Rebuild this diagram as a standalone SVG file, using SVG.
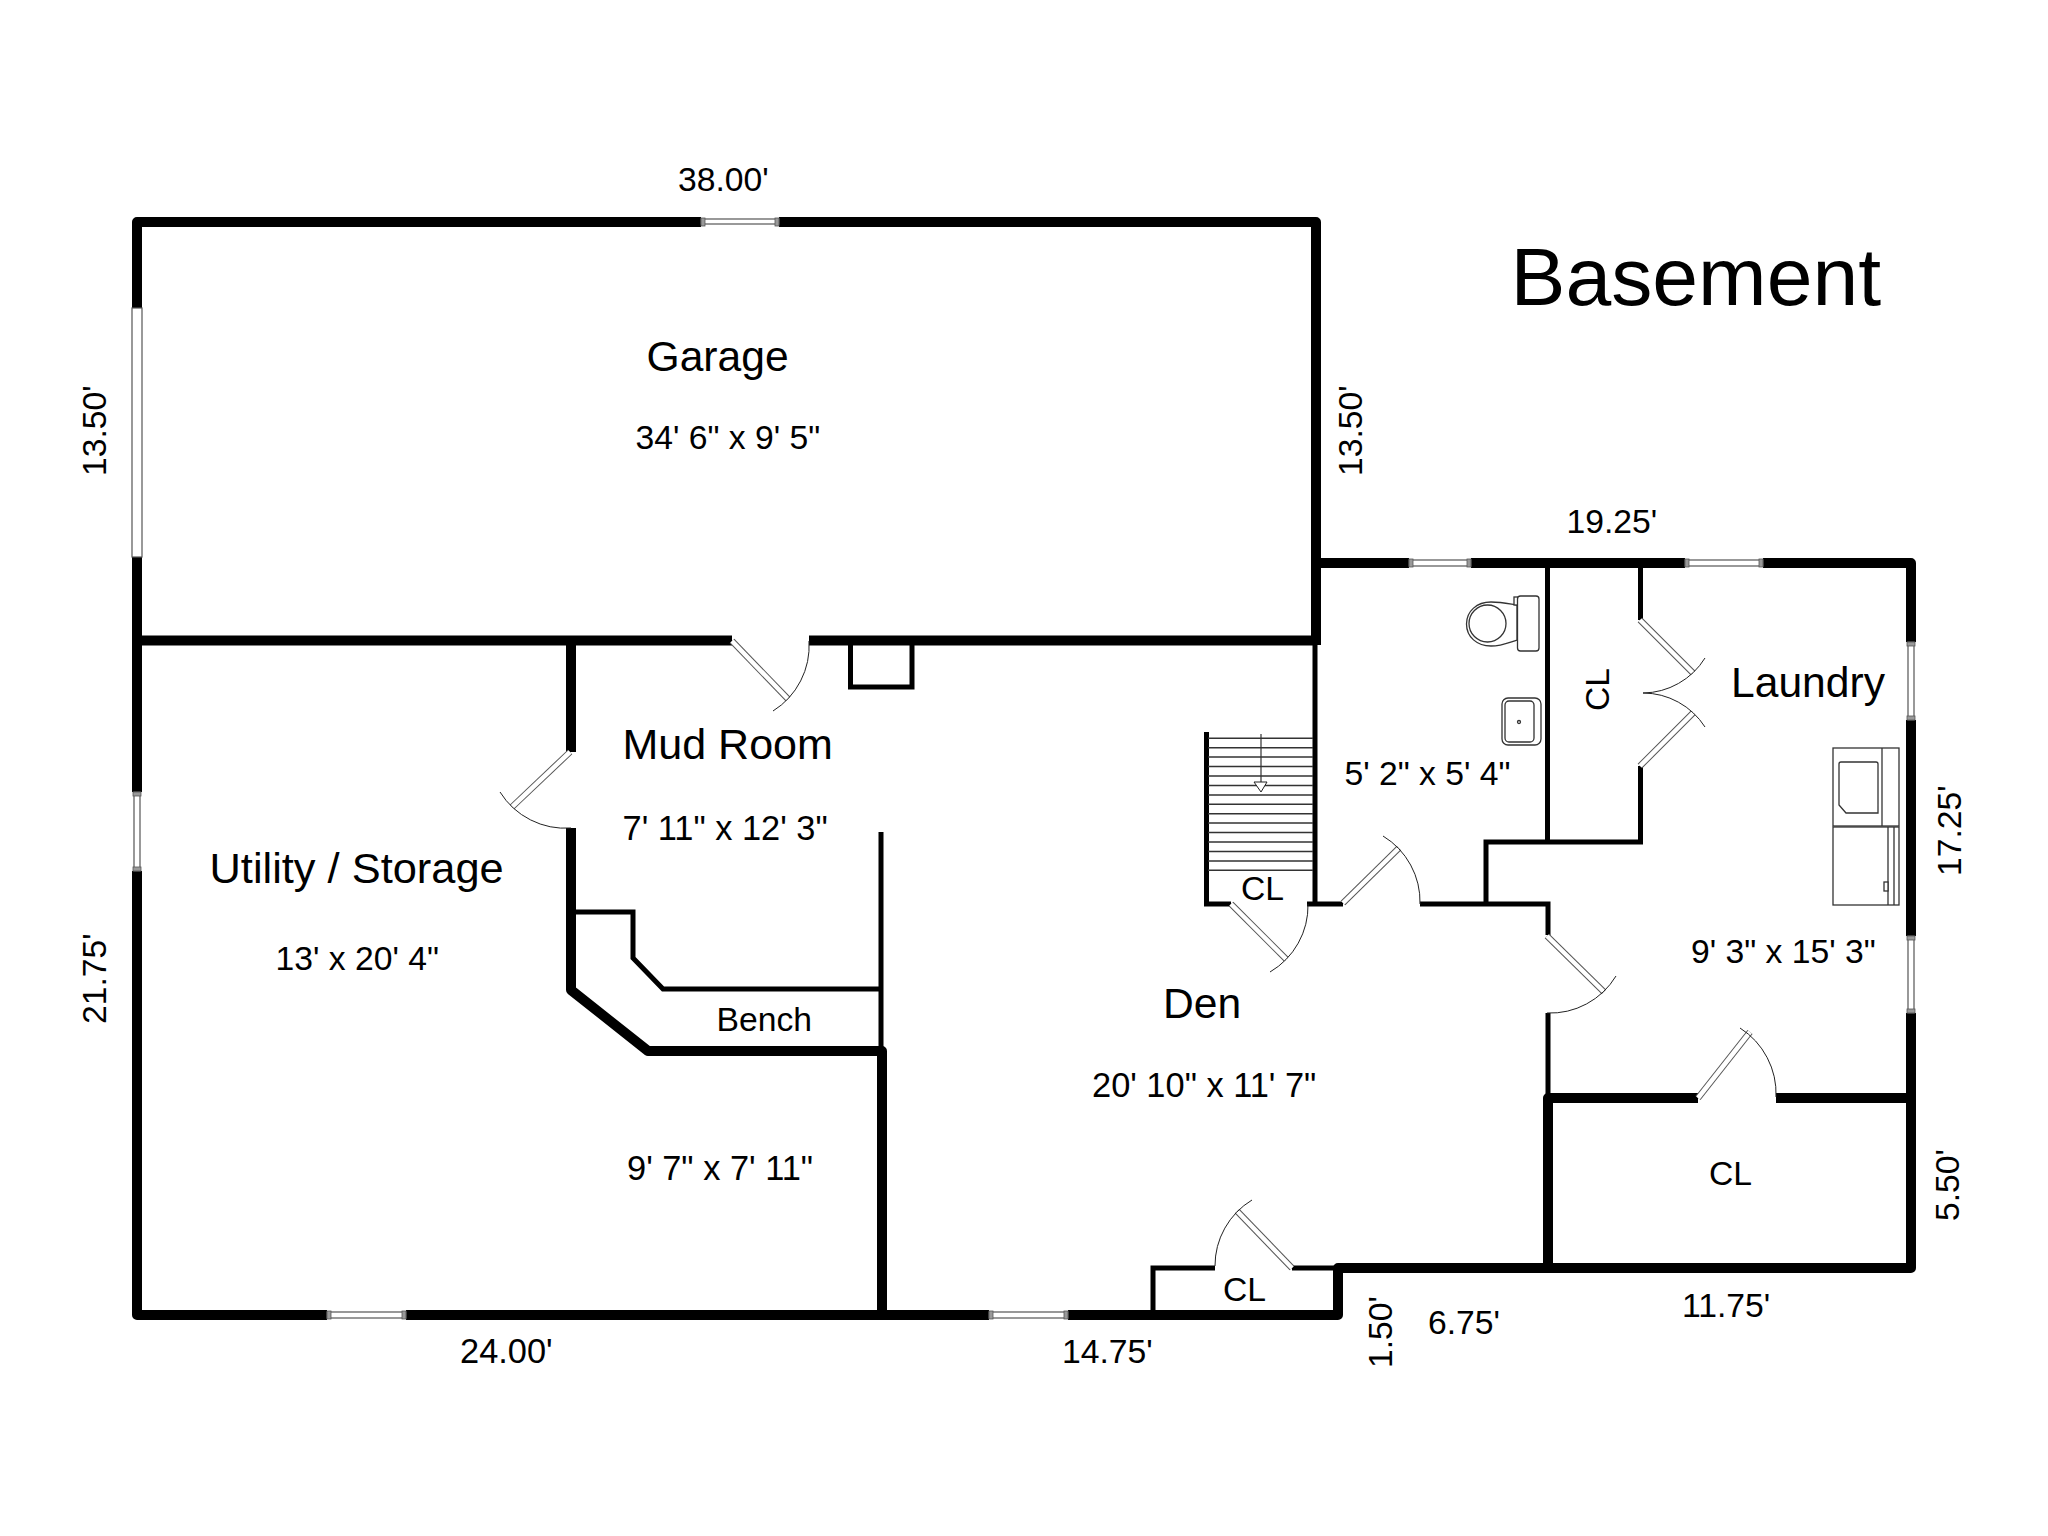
<svg xmlns="http://www.w3.org/2000/svg" width="2048" height="1536" viewBox="0 0 2048 1536">
<style>
text{font-family:"Liberation Sans",Arial,sans-serif;fill:#000}
.w10,.w5{fill:none;stroke:#000;stroke-linecap:butt}
.w10{stroke-width:10;stroke-linejoin:round}
.w5{stroke-width:5;stroke-linejoin:miter}
.lo{fill:none;stroke:#555;stroke-width:6.5}
.li{fill:none;stroke:#fff;stroke-width:4.5}
.arc{fill:none;stroke:#222;stroke-width:1}
.win{fill:#fff;stroke:#555;stroke-width:1.2}
.cap{fill:#999;stroke:#555;stroke-width:.8}
.fx{fill:#fff;stroke:#333;stroke-width:1.3}
.tread{fill:none;stroke:#333;stroke-width:1.5}
.t43{font-size:43px}
.t42{font-size:42.6px}
.t34{font-size:33.7px}
.t345{font-size:34.4px}
.t44{font-size:43.4px}
.t82{font-size:82.3px}
</style>
<rect width="2048" height="1536" fill="#fff"/>
<g id="walls">
<path class="w10" d="M701 222H137V308M137 557V792M137 871V1315H327M406 1315H989M1068 1315H1338V1268H1911V1013M1911 936V720M1911 642V563H1763M1685 563H1471M1409 563H1316"/>
<path class="w10" d="M779 222H1316V645M137 640.5H732M809 640.5H1316"/>
<path class="w10" d="M571 640V752M571 828V990L648 1051H882V1315"/>
<path class="w10" d="M1548 1268V1098H1698M1776 1098H1911"/>
<path class="w5" d="M881 832V1051M576 912H633V958L663 989H881"/>
<path class="w5" d="M850.5 640V687H912V640"/>
<path class="w5" d="M1206.5 732V904H1231M1307 904H1343M1420 904H1548V935M1548 1013V1098"/>
<path class="w5" d="M1315 645V904"/>
<path class="w5" d="M1547.5 563V842M1640.5 563V620M1640.5 766V842H1486V904"/>
<path class="w5" d="M1153 1315V1268H1215M1292 1268H1338"/>
</g>
<g id="windows">
<rect class="win" x="701" y="219" width="78" height="5"/><rect class="cap" x="701" y="218" width="4" height="8"/><rect class="cap" x="775" y="218" width="4" height="8"/>
<rect class="win" x="132" y="308" width="10" height="249"/>
<rect class="win" x="134" y="792" width="6" height="79"/><rect class="cap" x="133" y="792" width="8" height="4"/><rect class="cap" x="133" y="867" width="8" height="4"/>
<rect class="win" x="327" y="1312" width="79" height="6"/><rect class="cap" x="327" y="1311" width="4" height="8"/><rect class="cap" x="402" y="1311" width="4" height="8"/>
<rect class="win" x="989" y="1312" width="79" height="6"/><rect class="cap" x="989" y="1311" width="4" height="8"/><rect class="cap" x="1064" y="1311" width="4" height="8"/>
<rect class="win" x="1409" y="560" width="62" height="6"/><rect class="cap" x="1409" y="559" width="4" height="8"/><rect class="cap" x="1467" y="559" width="4" height="8"/>
<rect class="win" x="1685" y="560" width="78" height="6"/><rect class="cap" x="1685" y="559" width="4" height="8"/><rect class="cap" x="1759" y="559" width="4" height="8"/>
<rect class="win" x="1908" y="642" width="6" height="78"/><rect class="cap" x="1907" y="642" width="8" height="4"/><rect class="cap" x="1907" y="716" width="8" height="4"/>
<rect class="win" x="1908" y="936" width="6" height="77"/><rect class="cap" x="1907" y="936" width="8" height="4"/><rect class="cap" x="1907" y="1009" width="8" height="4"/>
</g>
<g id="doors">
<g id="door-mud"><path class="lo" d="M732 641L788 699"/><path class="li" d="M732 641L788 699"/><path class="arc" d="M809 641A77 77 0 0 1 773 711"/></g>
<g id="door-utility"><path class="lo" d="M570 752L512 807"/><path class="li" d="M570 752L512 807"/><path class="arc" d="M571 828A77 77 0 0 1 500 792"/></g>
<g id="door-stair-cl"><path class="lo" d="M1231 904L1286 959"/><path class="li" d="M1231 904L1286 959"/><path class="arc" d="M1308 904A77 77 0 0 1 1270 972"/></g>
<g id="door-bath"><path class="lo" d="M1343 903L1399 848"/><path class="li" d="M1343 903L1399 848"/><path class="arc" d="M1420 904A77 77 0 0 0 1383 836"/></g>
<g id="door-laundry"><path class="lo" d="M1547 936L1604 992"/><path class="li" d="M1547 936L1604 992"/><path class="arc" d="M1547 1013A77 77 0 0 0 1616 976"/></g>
<g id="door-closet-a"><path class="lo" d="M1640 620L1693 673"/><path class="li" d="M1640 620L1693 673"/><path class="arc" d="M1643 693A74 74 0 0 0 1705 658"/></g>
<g id="door-closet-b"><path class="lo" d="M1640 766L1693 713"/><path class="li" d="M1640 766L1693 713"/><path class="arc" d="M1643 693A74 74 0 0 1 1705 727"/></g>
<g id="door-cl-big"><path class="lo" d="M1698 1098L1750 1032"/><path class="li" d="M1698 1098L1750 1032"/><path class="arc" d="M1776 1097A78 78 0 0 0 1740 1028"/></g>
<g id="door-cl-small"><path class="lo" d="M1292 1268L1237 1211"/><path class="li" d="M1292 1268L1237 1211"/><path class="arc" d="M1215 1266A77 77 0 0 1 1252 1200"/></g>
</g>
<g id="stairs">
<path class="tread" d="M1208 738.3H1313M1208 747.7H1313M1208 757.1H1313M1208 766.6H1313M1208 776H1313M1208 785.4H1313M1208 794.9H1313M1208 804.3H1313M1208 813.7H1313M1208 823.1H1313M1208 832.6H1313M1208 842H1313M1208 851.4H1313M1208 860.9H1313M1208 870.3H1313"/>
<path d="M1261 734V782" fill="none" stroke="#333" stroke-width="1.2"/>
<path d="M1254 782H1267L1261 792Z" fill="#fff" stroke="#222" stroke-width="1"/>
</g>
<g id="toilet">
<path class="fx" d="M1517 605C1510 604 1502 602 1491 602C1477 602 1466.500 611 1466.500 624C1466.500 637 1477 646 1491 646C1502 646 1510 642 1517 640Z"/>
<ellipse class="fx" cx="1487.500" cy="623.500" rx="18.500" ry="18.500"/>
<rect class="fx" x="1514" y="597" width="4" height="8"/>
<rect class="fx" x="1517.500" y="596" width="21.500" height="55" rx="3"/>
</g>
<g id="sink">
<rect class="fx" x="1502" y="698" width="39" height="47" rx="6"/>
<rect class="fx" x="1505" y="701" width="29" height="41" rx="4"/>
<circle class="fx" cx="1519" cy="722" r="1.500"/>
</g>
<g id="washer">
<rect class="fx" x="1833" y="748" width="66" height="78"/>
<path class="fx" d="M1882 748V826"/>
<path class="fx" d="M1841 762H1876Q1878 762 1878 764V813H1846L1839 805V764Q1839 762 1841 762Z"/>
</g>
<g id="dryer">
<rect class="fx" x="1833" y="827" width="66" height="78"/>
<path class="fx" d="M1888 827V905M1894 827V905"/>
<rect class="fx" x="1884" y="882" width="4" height="9"/>
</g>
<g id="labels">
<text class="t82" x="1510.500" y="305">Basement</text>
<text class="t34" x="678" y="191">38.00'</text>
<text class="t42" x="646.500" y="371">Garage</text>
<text class="t34" x="635.500" y="449">34' 6" x 9' 5"</text>
<text class="t43" x="622.500" y="759">Mud Room</text>
<text class="t345" x="622.500" y="840">7' 11" x 12' 3"</text>
<text class="t44" x="209.500" y="883">Utility / Storage</text>
<text class="t34" x="275.500" y="970">13' x 20' 4"</text>
<text class="t34" x="716.500" y="1031">Bench</text>
<text class="t345" x="627" y="1180">9' 7" x 7' 11"</text>
<text class="t42" x="1163" y="1018">Den</text>
<text class="t345" x="1092" y="1097">20' 10" x 11' 7"</text>
<text class="t34" x="1241" y="900">CL</text>
<text class="t34" x="1223" y="1301">CL</text>
<text class="t34" x="1709" y="1185">CL</text>
<text class="t34" transform="translate(1609 711) rotate(-90)">CL</text>
<text class="t42" x="1731" y="697">Laundry</text>
<text class="t34" x="1344.500" y="785">5' 2" x 5' 4"</text>
<text class="t34" x="1691" y="963">9' 3" x 15' 3"</text>
<text class="t34" x="1566.500" y="533">19.25'</text>
<text class="t345" x="460" y="1363">24.00'</text>
<text class="t34" x="1062" y="1363">14.75'</text>
<text class="t34" x="1428" y="1334">6.75'</text>
<text class="t34" x="1682" y="1317">11.75'</text>
<text class="t34" transform="translate(106 476) rotate(-90)">13.50'</text>
<text class="t34" transform="translate(1362 476) rotate(-90)">13.50'</text>
<text class="t34" transform="translate(106 1024) rotate(-90)">21.75'</text>
<text class="t34" transform="translate(1961 876) rotate(-90)">17.25'</text>
<text class="t34" transform="translate(1959 1221) rotate(-90)">5.50'</text>
<text class="t34" transform="translate(1392 1368) rotate(-90)">1.50'</text>
</g>
</svg>
